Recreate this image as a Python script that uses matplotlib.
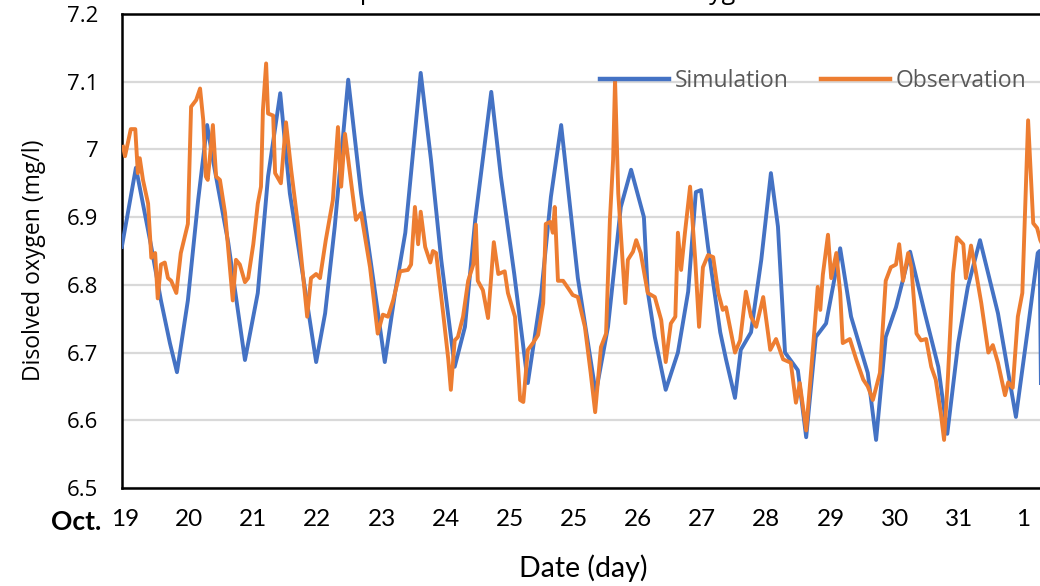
import matplotlib
matplotlib.use("Agg")
import matplotlib.pyplot as plt

# ---- data (time in days from Oct. 19) ----
sim_day = [-0.05, 0.17, 0.41, 0.56, 0.70, 0.81, 0.98, 1.14, 1.28, 1.37, 1.61, 1.87,
           2.07, 2.23, 2.42, 2.57, 2.78, 2.98, 3.12, 3.27, 3.48, 3.68, 3.90, 4.05,
           4.21, 4.37, 4.61, 4.77, 4.93, 5.14, 5.30, 5.46, 5.71, 5.86, 6.07, 6.28,
           6.49, 6.64, 6.80, 7.06, 7.34, 7.53, 7.73, 7.89, 8.09, 8.15, 8.26, 8.43,
           8.62, 8.78, 8.90, 8.98, 9.09, 9.28, 9.37, 9.51, 9.60, 9.76, 9.92, 10.07,
           10.18, 10.29, 10.49, 10.62, 10.77, 10.93, 11.15, 11.32, 11.58, 11.71, 11.86,
           12.02, 12.24, 12.47, 12.68, 12.82, 12.99, 13.14, 13.33, 13.61, 13.89, 14.08,
           14.23, 14.26, 14.28]
sim_do = [6.856, 6.973, 6.856, 6.777, 6.714, 6.671, 6.777, 6.925, 7.036, 6.985, 6.862, 6.689,
          6.788, 6.960, 7.083, 6.935, 6.810, 6.686, 6.758, 6.886, 7.103, 6.935, 6.788, 6.686,
          6.788, 6.877, 7.113, 6.985, 6.837, 6.679, 6.738, 6.896, 7.085, 6.960, 6.815, 6.655,
          6.788, 6.930, 7.036, 6.810, 6.640, 6.738, 6.915, 6.970, 6.900, 6.790, 6.723, 6.645,
          6.700, 6.790, 6.937, 6.940, 6.856, 6.730, 6.690, 6.633, 6.704, 6.730, 6.837, 6.965,
          6.886, 6.700, 6.674, 6.575, 6.723, 6.743, 6.854, 6.753, 6.670, 6.571, 6.723,
          6.767, 6.849, 6.758, 6.679, 6.580, 6.714, 6.797, 6.866, 6.758, 6.605, 6.738,
          6.847, 6.850, 6.655]

obs_day = [-0.03, 0.00, 0.09, 0.16, 0.20, 0.23, 0.28, 0.36, 0.41, 0.47, 0.51, 0.56, 0.62,
           0.67, 0.72, 0.80, 0.87, 0.98, 1.03, 1.11, 1.17, 1.22, 1.26, 1.29, 1.37, 1.42,
           1.48, 1.56, 1.68, 1.73, 1.79, 1.87, 1.92, 2.00, 2.07, 2.12, 2.15, 2.20, 2.23,
           2.31, 2.34, 2.43, 2.51, 2.59, 2.70, 2.78, 2.84, 2.90, 2.98, 3.04, 3.13, 3.24,
           3.32, 3.37, 3.43, 3.52, 3.60, 3.68, 3.82, 3.94, 4.02, 4.10, 4.18, 4.29, 4.41,
           4.46, 4.52, 4.57, 4.61, 4.68, 4.76, 4.80, 4.85, 4.96, 5.04, 5.08, 5.14, 5.19,
           5.27, 5.35, 5.43, 5.47, 5.50, 5.58, 5.66, 5.75, 5.82, 5.92, 5.97, 6.08, 6.16,
           6.21, 6.28, 6.36, 6.44, 6.52, 6.56, 6.63, 6.67, 6.70, 6.75, 6.83, 6.91, 6.98,
           7.06, 7.17, 7.26, 7.33, 7.42, 7.50, 7.56, 7.61, 7.64, 7.69, 7.80, 7.84, 7.92,
           7.97, 8.04, 8.15, 8.26, 8.36, 8.43, 8.51, 8.58, 8.62, 8.67, 8.73, 8.81, 8.89,
           8.95, 9.01, 9.09, 9.17, 9.25, 9.32, 9.37, 9.51, 9.59, 9.68, 9.76, 9.84, 9.95,
           10.06, 10.15, 10.26, 10.38, 10.46, 10.52, 10.62, 10.73, 10.80, 10.84, 10.88,
           10.96, 11.01, 11.09, 11.15, 11.19, 11.30, 11.40, 11.51, 11.58, 11.66, 11.77,
           11.86, 11.94, 12.02, 12.07, 12.13, 12.21, 12.26, 12.34, 12.41, 12.49, 12.57,
           12.64, 12.72, 12.77, 12.83, 12.91, 12.97, 13.07, 13.11, 13.19, 13.27, 13.35,
           13.46, 13.53, 13.61, 13.72, 13.77, 13.84, 13.92, 13.99, 14.08, 14.16, 14.22,
           14.27, 14.35]
obs_do = [7.004, 6.990, 7.030, 7.030, 6.965, 6.987, 6.955, 6.920, 6.840, 6.847, 6.780, 6.830, 6.833,
          6.810, 6.806, 6.788, 6.847, 6.890, 7.063, 7.073, 7.090, 7.043, 6.960, 6.955, 7.036, 6.960,
          6.955, 6.906, 6.777, 6.837, 6.830, 6.804, 6.810, 6.860, 6.920, 6.945, 7.058, 7.127, 7.053,
          7.050, 6.965, 6.950, 7.040, 6.970, 6.886, 6.810, 6.753, 6.810, 6.816, 6.810, 6.866, 6.925,
          7.033, 6.945, 7.023, 6.955, 6.896, 6.906, 6.826, 6.728, 6.756, 6.753, 6.777, 6.820, 6.822,
          6.830, 6.915, 6.860, 6.908, 6.856, 6.833, 6.850, 6.847, 6.758, 6.690, 6.645, 6.718, 6.723,
          6.753, 6.806, 6.830, 6.889, 6.806, 6.792, 6.751, 6.863, 6.816, 6.820, 6.788, 6.753, 6.630,
          6.627, 6.704, 6.714, 6.726, 6.773, 6.890, 6.893, 6.877, 6.915, 6.806, 6.806, 6.795, 6.785,
          6.782, 6.738, 6.670, 6.612, 6.708, 6.728, 6.896, 6.985, 7.103, 6.935, 6.773, 6.837, 6.849,
          6.866, 6.847, 6.788, 6.782, 6.748, 6.686, 6.743, 6.753, 6.877, 6.822, 6.877, 6.945, 6.837,
          6.738, 6.826, 6.844, 6.841, 6.788, 6.763, 6.767, 6.700, 6.718, 6.790, 6.753, 6.738, 6.782,
          6.704, 6.720, 6.690, 6.685, 6.626, 6.655, 6.585, 6.711, 6.797, 6.763, 6.815,
          6.874, 6.810, 6.847, 6.788, 6.714, 6.720, 6.690, 6.660, 6.650, 6.630, 6.670,
          6.806, 6.826, 6.830, 6.860, 6.806, 6.847, 6.826, 6.728, 6.718, 6.720, 6.679,
          6.660, 6.610, 6.571, 6.664, 6.817, 6.870, 6.860, 6.810, 6.858, 6.817, 6.773,
          6.700, 6.711, 6.685, 6.637, 6.656, 6.648, 6.753, 6.788, 7.043, 6.891, 6.884,
          6.866, 6.850]

tick_labels = ["19", "20", "21", "22", "23", "24", "25", "25", "26", "27", "28", "29", "30", "31", "1"]
y_ticks = [6.5, 6.6, 6.7, 6.8, 6.9, 7.0, 7.1, 7.2]
y_tick_labels = ["6.5", "6.6", "6.7", "6.8", "6.9", "7", "7.1", "7.2"]

BLUE = "#4472C4"
ORANGE = "#ED7D31"
W, H = 1040, 586
NARROW = "Lato"
SEGOE = "Open Sans"

fig = plt.figure(figsize=(W / 100, H / 100), dpi=100)
left_px, right_px, top_px, bottom_px = 122, 1060, 14, 488
ax = fig.add_axes([left_px / W, 1 - bottom_px / H,
                   (right_px - left_px) / W, (bottom_px - top_px) / H])

ax.plot(sim_day, sim_do, color=BLUE, lw=2.8, label="Simulation", solid_joinstyle="round", zorder=3)
ax.plot(obs_day, obs_do, color=ORANGE, lw=2.8, label="Observation", solid_joinstyle="round", zorder=4)

ax.set_xlim(-0.047, -0.047 + (right_px - left_px) / 64.14)
ax.set_ylim(6.5, 7.2)
ax.set_yticks(y_ticks)
ax.set_yticklabels(y_tick_labels, fontfamily=SEGOE, fontsize=16, color="#000000")
ax.set_xticks(range(len(tick_labels)))
ax.set_xticklabels(tick_labels, fontfamily=NARROW, fontsize=17.5)
ax.tick_params(axis="both", length=0)
ax.tick_params(axis="y", pad=17)
ax.tick_params(axis="x", pad=15)

ax.grid(axis="y", color="#d9d9d9", lw=1.6, zorder=0)
ax.set_axisbelow(True)
for side in ["left", "bottom", "top"]:
    ax.spines[side].set_linewidth(1.8)
    ax.spines[side].set_color("black")
ax.spines["right"].set_visible(False)

ax.set_ylabel("Disolved oxygen (mg/l)", fontfamily=SEGOE, fontsize=16.5)
ax.yaxis.set_label_coords(-(122 - 46) / (right_px - left_px), (488 - 260) / 474)
ax.set_xlabel("Date (day)", fontfamily=NARROW, fontsize=20.5)
ax.xaxis.set_label_coords((583 - 122) / (right_px - left_px), -(568 - 488) / 474)
ax.xaxis.label.set_verticalalignment("center")

fig.text(101 / W, 1 - 522 / H, "Oct.", ha="right", va="center", fontweight="bold",
         fontfamily=NARROW, fontsize=19)

fig.text(537 / W, 1 + 1 / H, "Temporal variation of dissolved oxygen", ha="center", va="baseline",
         fontfamily=SEGOE, fontsize=18)

leg = ax.legend(loc="center right", bbox_to_anchor=((1026 - 122) / (right_px - left_px), (488 - 81) / 474),
                ncol=2, frameon=False, handlelength=3.0, handletextpad=0.25, columnspacing=1.4,
                prop={"family": SEGOE, "size": 16.5}, borderaxespad=0, borderpad=0)
for t in leg.get_texts():
    t.set_color("#595959")
for l in leg.get_lines():
    l.set_linewidth(3.2)

fig.savefig("out.png", dpi=100)
